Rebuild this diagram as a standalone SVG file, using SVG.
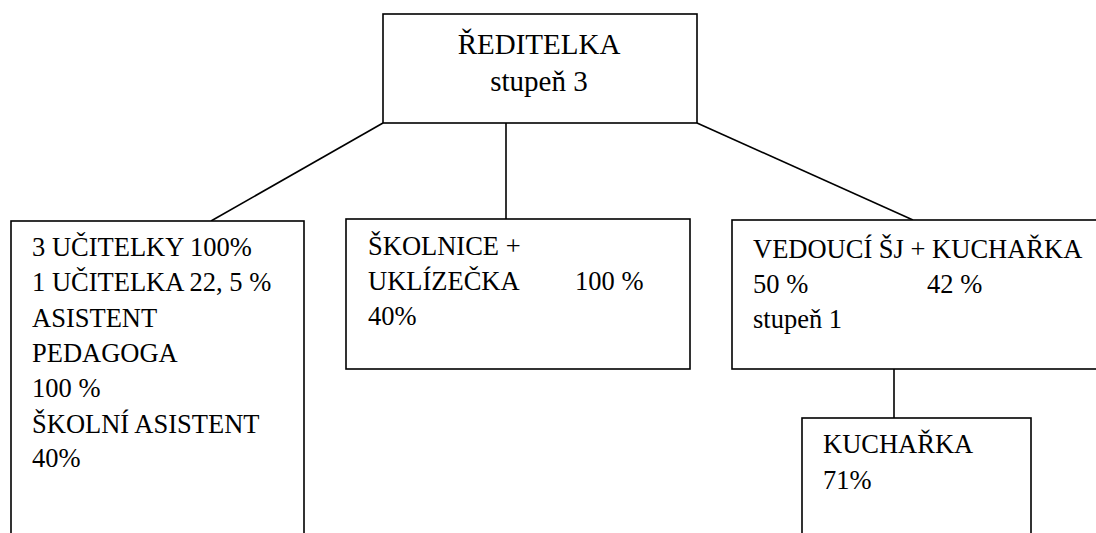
<svg xmlns="http://www.w3.org/2000/svg" width="1096" height="533" viewBox="0 0 1096 533">
<style>
.box{fill:#fff;stroke:#000;stroke-width:1.6}
.t{font-size:26.5px;fill:#000}
.tt{font-size:29px;fill:#000}
.c{stroke:#000;stroke-width:1.6;fill:none}
</style>
<rect width="1096" height="533" fill="#fff"/>
<g id="connectors">
<line class="c" x1="383" y1="123" x2="211" y2="221"/>
<line class="c" x1="506" y1="123" x2="506" y2="219"/>
<line class="c" x1="697" y1="123" x2="913" y2="220"/>
<line class="c" x1="894" y1="369" x2="894" y2="418"/>
</g>
<g font-family="'Liberation Serif', 'Times New Roman', serif">
<g id="reditelka">
<rect class="box" x="383" y="14" width="314" height="109"/>
<text class="tt" x="539" y="54" text-anchor="middle">ŘEDITELKA</text>
<text class="tt" x="539" y="91" text-anchor="middle">stupeň 3</text>
</g>
<g id="ucitelky">
<rect class="box" x="11" y="221" width="293" height="330"/>
<text class="t" x="32" y="256">3 UČITELKY 100%</text>
<text class="t" x="32" y="291">1 UČITELKA 22, 5 %</text>
<text class="t" x="32" y="327">ASISTENT</text>
<text class="t" x="32" y="362">PEDAGOGA</text>
<text class="t" x="32" y="397">100 %</text>
<text class="t" x="32" y="433">ŠKOLNÍ ASISTENT</text>
<text class="t" x="32" y="467">40%</text>
</g>
<g id="skolnice">
<rect class="box" x="346" y="219" width="344" height="150"/>
<text class="t" x="368" y="255">ŠKOLNICE +</text>
<text class="t" x="368" y="290">UKLÍZEČKA</text>
<text class="t" x="575" y="290">100 %</text>
<text class="t" x="368" y="325">40%</text>
</g>
<g id="vedouci">
<rect class="box" x="732" y="220" width="370" height="149"/>
<text class="t" x="753" y="258">VEDOUCÍ ŠJ + KUCHAŘKA</text>
<text class="t" x="753" y="293">50 %</text>
<text class="t" x="927" y="293">42 %</text>
<text class="t" x="753" y="328">stupeň 1</text>
</g>
<g id="kucharka">
<rect class="box" x="802" y="418" width="229" height="130"/>
<text class="t" x="823" y="453">KUCHAŘKA</text>
<text class="t" x="823" y="489">71%</text>
</g>
</g>
</svg>
